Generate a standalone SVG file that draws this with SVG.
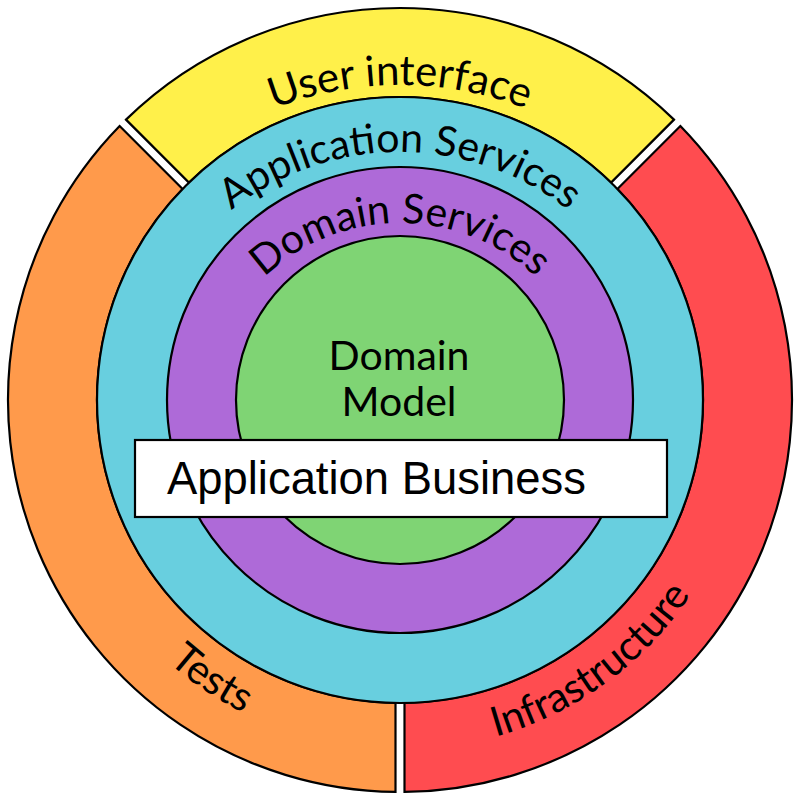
<svg xmlns="http://www.w3.org/2000/svg" xmlns:xlink="http://www.w3.org/1999/xlink" width="800" height="800" viewBox="0 0 800 800">
  <style>
    .seg { stroke: #000; stroke-width: 2.2; stroke-linejoin: miter; }
    .ring { stroke: #000; stroke-width: 2.2; }
    .lbl { font-family: Lato, "Open Sans", sans-serif; font-size: 41px; fill: #000; }
    .big { font-size: 42px; }
    .box { fill: #fff; stroke: #000; stroke-width: 2.2; }
    .boxlbl { font-family: "Liberation Sans", Arial, sans-serif; font-size: 45.4px; fill: #000; }
  </style>
  <defs>
    <path id="arcUI" d="M 55,430 A 345 345 0 0 1 745,430"/>
    <path id="arcAS" d="M 127,425 A 273 273 0 0 1 673,425"/>
    <path id="arcDS" d="M 203,420 A 197 197 0 0 1 597,420"/>
    <path id="arcBottom" d="M 50,400 A 350 350 0 0 0 750,400"/>
  </defs>
  <rect width="800" height="800" fill="#fff"/>
  <g id="user-interface">
    <path class="seg" fill="#FFF04A" d="M 126.0,119.65 A 392 392 0 0 1 674.0,119.65 L 611.05,182.59 A 303 303 0 0 0 188.95,182.59 Z"/>
    <text class="lbl big"><textPath xlink:href="#arcUI" href="#arcUI" startOffset="50%" text-anchor="middle">User interface</textPath></text>
  </g>
  <g id="infrastructure">
    <path class="seg" fill="#FF4C50" d="M 680.35,126.01 A 392 392 0 0 1 404.5,791.97 L 404.5,702.97 A 303 303 0 0 0 617.41,188.95 Z"/>
    <text class="lbl"><textPath xlink:href="#arcBottom" href="#arcBottom" startOffset="70%" text-anchor="middle">Infrastructure</textPath></text>
  </g>
  <g id="tests">
    <path class="seg" fill="#FF9A4B" d="M 395.5,791.97 A 392 392 0 0 1 119.65,126.01 L 182.59,188.95 A 303 303 0 0 0 395.5,702.97 Z"/>
    <text class="lbl"><textPath xlink:href="#arcBottom" href="#arcBottom" startOffset="31.1%" text-anchor="middle">Tests</textPath></text>
  </g>
  <g id="application-services">
    <circle class="ring" cx="400" cy="400" r="303" fill="#68CFDF"/>
    <text class="lbl"><textPath xlink:href="#arcAS" href="#arcAS" startOffset="50%" text-anchor="middle">Application Services</textPath></text>
  </g>
  <g id="domain-services">
    <circle class="ring" cx="400" cy="400" r="233" fill="#AE6AD8"/>
    <text class="lbl"><textPath xlink:href="#arcDS" href="#arcDS" startOffset="50%" text-anchor="middle">Domain Services</textPath></text>
  </g>
  <g id="domain-model">
    <circle class="ring" cx="400" cy="400" r="164" fill="#7FD474"/>
    <text class="lbl" x="399" y="370" text-anchor="middle">Domain</text>
    <text class="lbl" x="399" y="416" text-anchor="middle">Model</text>
  </g>
  <g id="application-business">
    <rect class="box" x="135" y="440" width="532" height="77"/>
    <text class="boxlbl" x="167" y="494">Application Business</text>
  </g>
  <g id="connectors"/>
</svg>
